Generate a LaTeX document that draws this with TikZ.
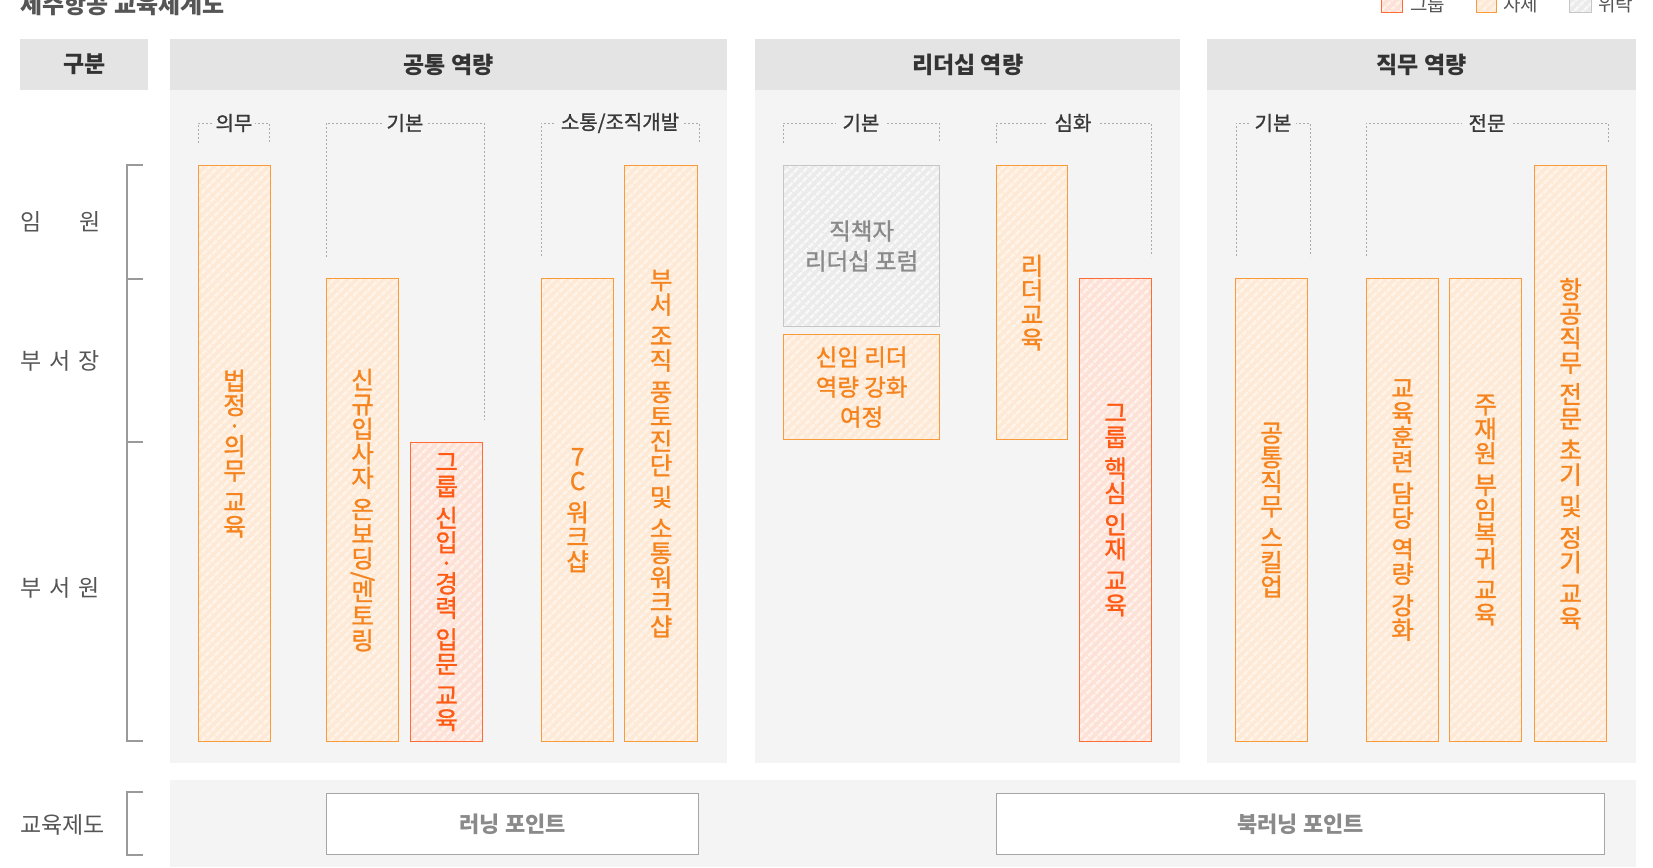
\documentclass[tikz,border=0pt]{standalone}
\usepackage{fontspec}
\usepackage{graphicx}
\setmainfont{Noto Sans CJK KR}
\newfontfamily\medfont[FakeBold=1.2]{Noto Sans CJK KR}
\usetikzlibrary{patterns.meta}
\definecolor{panel}{HTML}{F4F4F4}
\definecolor{head}{HTML}{E4E4E4}
\definecolor{selfO}{HTML}{F99B3A}
\definecolor{selfF}{HTML}{FDE9D5}
\definecolor{selfS}{HTML}{FFF4EA}
\definecolor{selfT}{HTML}{F5841F}
\definecolor{grpO}{HTML}{FF6B35}
\definecolor{grpF}{HTML}{FDE1D6}
\definecolor{grpS}{HTML}{FFF1EB}
\definecolor{grpT}{HTML}{FF5A14}
\definecolor{outO}{HTML}{C6C6C6}
\definecolor{outF}{HTML}{EBEBEB}
\definecolor{outS}{HTML}{F8F8F8}
\definecolor{outT}{HTML}{8A8A8A}
\definecolor{dashc}{HTML}{AAAAAA}
\definecolor{brk}{HTML}{9A9A9A}
\definecolor{lbl}{HTML}{555555}
\newcommand\vgap{\\[7pt]}
\newcommand\vdot{\\[-4pt]·\\[-4pt]}
\newcommand\vslash{\\[-8pt]\rotatebox[origin=c]{-90}{/}\\[-8pt]}
\tikzset{
  bar/.style={anchor=north west, inner sep=0pt, line width=1.2pt, align=center,
    font=\medfont\fontsize{24.5}{24.5}\selectfont},
  stripes/.style={pattern={Lines[angle=45,distance=6.5pt,line width=3pt]}},
  selfbar/.style={bar, draw=selfO, text=selfT, preaction={fill=selfF}, stripes, pattern color=selfS},
  grpbar/.style={bar, draw=grpO, text=grpT, preaction={fill=grpF}, stripes, pattern color=grpS},
  outbar/.style={bar, draw=outO, text=outT, preaction={fill=outF}, stripes, pattern color=outS},
  headbox/.style={anchor=north west, fill=head, inner sep=0pt, text=black!80,
    font=\bfseries\fontsize{23}{26}\selectfont},
  sublbl/.style={fill=panel, inner xsep=5pt, inner ysep=1pt, text=black!78,
    font=\medfont\fontsize{20}{22}\selectfont},
  dashline/.style={draw=dashc, line width=1pt, dash pattern=on 2pt off 2pt},
  rowlbl/.style={anchor=west, inner sep=0pt, text=lbl, font=\fontsize{23}{26}\selectfont},
  lpbox/.style={anchor=north west, draw=black!35, fill=white, line width=1.2pt, text=outT,
    font=\bfseries\fontsize{22}{26}\selectfont},
  boxtxt/.style={font=\medfont\fontsize{23.5}{30}\selectfont},
  legsq/.style={line width=1pt},
  legtxt/.style={anchor=base west, inner sep=0pt, text=lbl, font=\fontsize{19}{22}\selectfont},
}
\begin{document}
\begin{tikzpicture}[x=1pt,y=-1pt]
\useasboundingbox (0,0) rectangle (1653,867);
% title and legend (cut at top as in the reference)
\node[anchor=base west, inner sep=0pt, text=lbl, font=\bfseries\fontsize{24}{28}\selectfont] (title) at (20,13.5) {제주항공 교육체계도};
\draw[legsq, draw=grpO, preaction={fill=grpF}, stripes, pattern color=grpS] (1381,-8) rectangle (1402,13);
\node[legtxt] (lg1) at (1410,11.5) {그룹};
\draw[legsq, draw=selfO, preaction={fill=selfF}, stripes, pattern color=selfS] (1476,-8) rectangle (1496,13);
\node[legtxt] (lg2) at (1503,11.5) {자체};
\draw[legsq, draw=outO, preaction={fill=outF}, stripes, pattern color=outS] (1569,-8) rectangle (1591,13);
\node[legtxt] (lg3) at (1598,11.5) {위탁};
% panels
\fill[panel] (170,90) rectangle (727,763);
\fill[panel] (755,90) rectangle (1180,763);
\fill[panel] (1207,90) rectangle (1636,763);
\fill[panel] (170,780) rectangle (1636,867);
\node[headbox, minimum width=128, minimum height=51] (h0) at (20,39) {구분};
\node[headbox, minimum width=557, minimum height=51] (h1) at (170,39) {공통 역량};
\node[headbox, minimum width=425, minimum height=51] (h2) at (755,39) {리더십 역량};
\node[headbox, minimum width=429, minimum height=51] (h3) at (1207,39) {직무 역량};
% left bracket
\draw[brk, line width=1.2pt] (143,165) -- (127,165) -- (127,741) -- (143,741);
\draw[brk, line width=1.2pt] (127,279) -- (143,279);
\draw[brk, line width=1.2pt] (127,442) -- (143,442);
\draw[brk, line width=1.2pt] (143,792) -- (127,792) -- (127,855) -- (143,855);
\node[rowlbl] (r1) at (20,222) {임\hspace{38pt}원};
\node[rowlbl] (r2) at (20,361) {부\hspace{8pt}서\hspace{8pt}장};
\node[rowlbl] (r3) at (20,588) {부\hspace{8pt}서\hspace{8pt}원};
\node[rowlbl] (r4) at (20,825) {교육제도};
% dashed sub-brackets
\draw[dashline] (198,143) -- (198,123) -- (269,123) -- (269,143);
\node[sublbl, inner xsep=3pt] (s1) at (234,123) {의무};
\draw[dashline] (326,257) -- (326,123) -- (484,123) -- (484,420);
\node[sublbl] (s2) at (405,123) {기본};
\draw[dashline] (541,256) -- (541,123) -- (699,123) -- (699,143);
\node[sublbl] (s3) at (620,123) {소통/조직개발};
\draw[dashline] (783,143) -- (783,123) -- (939,123) -- (939,143);
\node[sublbl, inner xsep=7pt] (s4) at (861,123) {기본};
\draw[dashline] (996,143) -- (996,123) -- (1151,123) -- (1151,256);
\node[sublbl, inner xsep=7pt] (s5) at (1073,123) {심화};
\draw[dashline] (1236,256) -- (1236,123) -- (1310,123) -- (1310,256);
\node[sublbl] (s6) at (1273,123) {기본};
\draw[dashline] (1366,256) -- (1366,123) -- (1608,123) -- (1608,143);
\node[sublbl, inner xsep=7pt] (s7) at (1487,123) {전문};
% bars
\node[selfbar, minimum width=72, minimum height=576] (b1) at (198,165) {법\\정\vdot 의\\무\vgap 교\\육};
\node[selfbar, minimum width=72, minimum height=463] (b2) at (326,278) {신\\규\\입\\사\\자\vgap 온\\보\\딩\vslash 멘\\토\\링};
\node[grpbar, minimum width=72, minimum height=299] (b3) at (410,442) {그\\룹\vgap 신\\입\vdot 경\\력\vgap 입\\문\vgap 교\\육};
\node[selfbar, minimum width=72, minimum height=463] (b4) at (541,278) {7\\C\vgap 워\\크\\샵};
\node[selfbar, minimum width=73, minimum height=576] (b5) at (624,165) {부\\서\vgap 조\\직\vgap 풍\\토\\진\\단\vgap 및\vgap 소\\통\\워\\크\\샵};
\node[outbar, boxtxt, minimum width=156, minimum height=161] (b6) at (783,165) {직책자\\리더십 포럼};
\node[selfbar, boxtxt, minimum width=156, minimum height=105] (b7) at (783,334) {신임 리더\\역량 강화\\여정};
\node[selfbar, minimum width=71, minimum height=274] (b8) at (996,165) {리\\더\\교\\육};
\node[grpbar, minimum width=72, minimum height=463] (b9) at (1079,278) {그\\룹\vgap 핵\\심\vgap 인\\재\vgap 교\\육};
\node[selfbar, minimum width=72, minimum height=463] (b10) at (1235,278) {공\\통\\직\\무\vgap 스\\킬\\업};
\node[selfbar, minimum width=72, minimum height=463] (b11) at (1366,278) {교\\육\\훈\\련\vgap 담\\당\vgap 역\\량\vgap 강\\화};
\node[selfbar, minimum width=72, minimum height=463] (b12) at (1449,278) {주\\재\\원\vgap 부\\임\\복\\귀\vgap 교\\육};
\node[selfbar, minimum width=72, minimum height=576] (b13) at (1534,165) {항\\공\\직\\무\vgap 전\\문\vgap 초\\기\vgap 및\vgap 정\\기\vgap 교\\육};
% learning point boxes
\node[lpbox, minimum width=372, minimum height=61] (lp1) at (326,793) {러닝 포인트};
\node[lpbox, minimum width=608, minimum height=61] (lp2) at (996,793) {북러닝 포인트};
\end{tikzpicture}
\end{document}
